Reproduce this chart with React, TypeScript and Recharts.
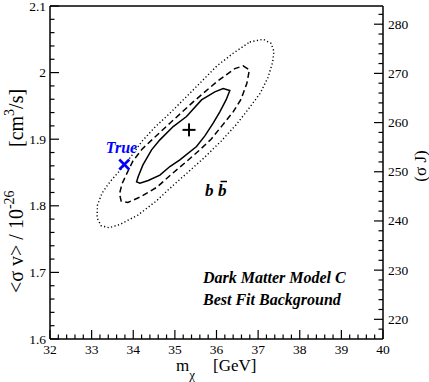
import React from 'react';
import { ComposedChart, Line, Scatter, XAxis, YAxis } from 'recharts';

// ---- data ----
const solidX = [36.32, 36.23, 36.08, 35.92, 35.72, 35.52, 35.12, 34.88, 34.64, 34.36, 34.16, 34.08, 34.12, 34.23, 34.44, 34.64, 34.96, 35.28, 35.64, 35.96, 36.16];
const solidY = [1.973, 1.959, 1.941, 1.924, 1.905, 1.889, 1.869, 1.859, 1.846, 1.838, 1.834, 1.836, 1.844, 1.861, 1.884, 1.899, 1.919, 1.934, 1.959, 1.971, 1.976];

const dashedX = [36.64, 36.79, 36.73, 36.59, 36.40, 36.13, 35.87, 35.60, 35.27, 34.93, 34.57, 34.16, 33.87, 33.71, 33.67, 33.73, 33.85, 33.99, 34.21, 34.50, 34.88, 35.44, 36.00, 36.44];
const dashedY = [2.010, 2.004, 1.984, 1.960, 1.941, 1.920, 1.900, 1.884, 1.866, 1.848, 1.828, 1.813, 1.805, 1.807, 1.818, 1.833, 1.849, 1.867, 1.885, 1.902, 1.924, 1.956, 1.986, 2.006];

const dottedX = [36.80, 37.12, 37.31, 37.38, 37.35, 37.24, 37.05, 36.80, 36.49, 36.11, 35.70, 35.29, 34.91, 34.55, 34.11, 33.68, 33.42, 33.23, 33.13, 33.14, 33.25, 33.44, 33.75, 33.97, 34.21, 34.52, 34.88, 35.44, 36.01, 36.40];
const dottedY = [2.046, 2.050, 2.044, 2.032, 2.016, 1.993, 1.969, 1.948, 1.923, 1.897, 1.872, 1.849, 1.828, 1.807, 1.786, 1.772, 1.767, 1.770, 1.782, 1.801, 1.819, 1.836, 1.858, 1.876, 1.897, 1.918, 1.939, 1.974, 2.010, 2.029];

const bestFit = [{ x: 35.34, y: 1.914 }];
const truePoint = [{ x: 33.785, y: 1.862 }];

const xMajor = [32, 33, 34, 35, 36, 37, 38, 39, 40];
const xMinor = [32.2, 32.4, 32.6, 32.8, 33.2, 33.4, 33.6, 33.8, 34.2, 34.4, 34.6, 34.8, 35.2, 35.4, 35.6, 35.8, 36.2, 36.4, 36.6, 36.8, 37.2, 37.4, 37.6, 37.8, 38.2, 38.4, 38.6, 38.8, 39.2, 39.4, 39.6, 39.8];
const yMajor = [1.6, 1.7, 1.8, 1.9, 2, 2.1];
const yMinor = [1.62, 1.64, 1.66, 1.68, 1.72, 1.74, 1.76, 1.78, 1.82, 1.84, 1.86, 1.88, 1.92, 1.94, 1.96, 1.98, 2.02, 2.04, 2.06, 2.08];
const rMajor = [220, 230, 240, 250, 260, 270, 280];
const rMinor = [218, 222, 224, 226, 228, 232, 234, 236, 238, 242, 244, 246, 248, 252, 254, 256, 258, 262, 264, 266, 268, 272, 274, 276, 278, 282];

const toPts = (xs: number[], ys: number[]) => xs.map((x, i) => ({ x, y: ys[i] }));
const solidData = toPts(solidX, solidY);
const dashedData = toPts(dashedX, dashedY);
const dottedData = toPts(dottedX, dottedY);

const FONT = "'Liberation Serif', 'Times New Roman', 'DejaVu Serif', serif";
const isMajor = (majors: number[], v: number) => majors.some((m) => Math.abs(m - v) < 1e-6);

const makeTick = (kind: 'bottom' | 'top' | 'left' | 'right', majors: number[], showLabel: boolean) => (props: any) => {
  const { x, y, payload } = props;
  const v = payload.value;
  const major = isMajor(majors, v);
  const len = major ? 9 : 4.5;
  let line = null;
  let label = null;
  const ts = { fontFamily: FONT, fontSize: 13.5 };
  if (kind === 'bottom') {
    line = <line x1={x} y1={y} x2={x} y2={y - len} stroke="#000" strokeWidth={1.2} />;
    if (showLabel && major) label = <text x={x} y={y + 15} textAnchor="middle" style={ts} fill="#000">{String(v)}</text>;
  } else if (kind === 'top') {
    line = <line x1={x} y1={y} x2={x} y2={y + len} stroke="#000" strokeWidth={1.2} />;
  } else if (kind === 'left') {
    line = <line x1={x} y1={y} x2={x + len} y2={y} stroke="#000" strokeWidth={1.2} />;
    if (showLabel && major) label = <text x={x - 4} y={y + 4.5} textAnchor="end" style={ts} fill="#000">{String(v)}</text>;
  } else {
    line = <line x1={x} y1={y} x2={x - len} y2={y} stroke="#000" strokeWidth={1.2} />;
    if (showLabel && major) label = <text x={x + 5} y={y + 4.5} textAnchor="start" style={ts} fill="#000">{String(v)}</text>;
  }
  return (
    <g>
      {line}
      {label}
    </g>
  );
};

const PlusShape = (props: any) => {
  const { cx, cy } = props;
  return (
    <g>
      <line x1={cx - 6.5} y1={cy} x2={cx + 6.5} y2={cy} stroke="#000" strokeWidth={2} />
      <line x1={cx} y1={cy - 6.5} x2={cx} y2={cy + 6.5} stroke="#000" strokeWidth={2} />
    </g>
  );
};

const CrossShape = (props: any) => {
  const { cx, cy } = props;
  return (
    <g>
      <line x1={cx - 5} y1={cy - 5} x2={cx + 5} y2={cy + 5} stroke="#0000ff" strokeWidth={2.6} />
      <line x1={cx - 5} y1={cy + 5} x2={cx + 5} y2={cy - 5} stroke="#0000ff" strokeWidth={2.6} />
    </g>
  );
};

const axisLine = { stroke: '#000', strokeWidth: 1.5 };

export default function App() {
  return (
    <div style={{ position: 'absolute', left: 0, top: 0, width: 429, height: 382, background: '#fff' }}>
      <ComposedChart width={429} height={382} margin={{ top: 0, right: 0, bottom: 0, left: 0 }}>
        <XAxis
          xAxisId="b"
          dataKey="x"
          type="number"
          orientation="bottom"
          domain={[32, 40]}
          ticks={[...xMajor, ...xMinor].sort((a, b) => a - b)}
          interval={0}
          height={43}
          tickSize={0}
          tickMargin={0}
          tickLine={false}
          axisLine={axisLine}
          tick={makeTick('bottom', xMajor, true)}
          allowDataOverflow
        />
        <XAxis
          xAxisId="t"
          type="number"
          orientation="top"
          domain={[32, 40]}
          ticks={[...xMajor, ...xMinor].sort((a, b) => a - b)}
          interval={0}
          height={6}
          tickSize={0}
          tickMargin={0}
          tickLine={false}
          axisLine={axisLine}
          tick={makeTick('top', xMajor, false)}
          allowDataOverflow
        />
        <YAxis
          yAxisId="l"
          dataKey="y"
          type="number"
          orientation="left"
          domain={[1.6, 2.1]}
          ticks={[...yMajor, ...yMinor].sort((a, b) => a - b)}
          interval={0}
          width={50}
          tickSize={0}
          tickMargin={0}
          tickLine={false}
          axisLine={axisLine}
          tick={makeTick('left', yMajor, true)}
          allowDataOverflow
        />
        <YAxis
          yAxisId="r"
          type="number"
          orientation="right"
          domain={[216, 283.7]}
          ticks={[...rMajor, ...rMinor].sort((a, b) => a - b)}
          interval={0}
          width={46}
          tickSize={0}
          tickMargin={0}
          tickLine={false}
          axisLine={axisLine}
          tick={makeTick('right', rMajor, true)}
          allowDataOverflow
        />
        <Line
          xAxisId="b"
          yAxisId="l"
          data={dottedData}
          dataKey="y"
          type="linearClosed"
          stroke="#000"
          strokeWidth={1.4}
          strokeDasharray="1.2 2.4"
          dot={false}
          activeDot={false}
          isAnimationActive={false}
        />
        <Line
          xAxisId="b"
          yAxisId="l"
          data={dashedData}
          dataKey="y"
          type="linearClosed"
          stroke="#000"
          strokeWidth={1.5}
          strokeDasharray="6 3.5"
          dot={false}
          activeDot={false}
          isAnimationActive={false}
        />
        <Line
          xAxisId="b"
          yAxisId="l"
          data={solidData}
          dataKey="y"
          type="linearClosed"
          stroke="#000"
          strokeWidth={1.5}
          dot={false}
          activeDot={false}
          isAnimationActive={false}
        />
        <Scatter xAxisId="b" yAxisId="l" data={bestFit} dataKey="y" shape={PlusShape} isAnimationActive={false} />
        <Scatter xAxisId="b" yAxisId="l" data={truePoint} dataKey="y" shape={CrossShape} isAnimationActive={false} />
      </ComposedChart>
      <svg width={429} height={382} style={{ position: 'absolute', left: 0, top: 0, pointerEvents: 'none', fontFamily: FONT }}>
        <g fill="#000">
          <text transform="translate(23,293) rotate(-90)" style={{ fontFamily: FONT, fontSize: 20 }}>
            <tspan>{'<σ v> / 10'}</tspan>
            <tspan dy={-9} style={{ fontSize: 14 }}>-26</tspan>
            <tspan x={146} dy={9}>[cm</tspan>
            <tspan dy={-9} style={{ fontSize: 14 }}>3</tspan>
            <tspan dy={9}>/s]</tspan>
          </text>
          <text x={176} y={371} style={{ fontFamily: FONT, fontSize: 17 }}>
            <tspan>m</tspan>
            <tspan dy={8} style={{ fontSize: 13 }}>χ</tspan>
            <tspan x={213} dy={-8}>[GeV]</tspan>
          </text>
          <text transform="translate(426,166) rotate(-90)" textAnchor="middle" style={{ fontFamily: FONT, fontSize: 17 }}>(σ J)</text>
          <text x={121.5} y={152.5} textAnchor="middle" fill="#0000ff" style={{ fontFamily: FONT, fontSize: 16, fontWeight: 'bold', fontStyle: 'italic' }}>True</text>
          <text x={205} y={196} style={{ fontFamily: FONT, fontSize: 17, fontWeight: 'bold', fontStyle: 'italic' }}>b</text>
          <text x={218} y={196} style={{ fontFamily: FONT, fontSize: 17, fontWeight: 'bold', fontStyle: 'italic' }}>b</text>
          <line x1={220.5} y1={181.5} x2={227} y2={181.5} stroke="#000" strokeWidth={1.5} />
          <text x={203} y={283} style={{ fontFamily: FONT, fontSize: 16, fontWeight: 'bold', fontStyle: 'italic' }}>Dark Matter Model C</text>
          <text x={203} y={305} style={{ fontFamily: FONT, fontSize: 16, fontWeight: 'bold', fontStyle: 'italic' }}>Best Fit Background</text>
        </g>
      </svg>
    </div>
  );
}
